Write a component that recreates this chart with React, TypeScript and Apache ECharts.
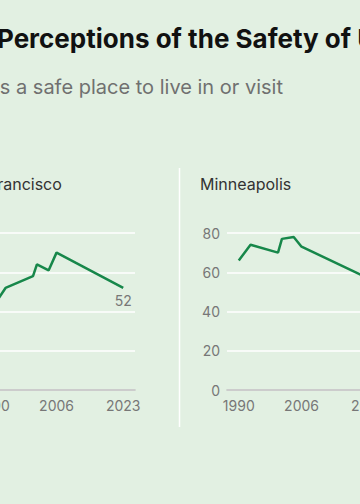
import React, { useEffect, useRef } from "react";
import * as echarts from "echarts";

const years = [1990, 1993, 2000, 2001, 2004, 2006, 2023];
const sanFrancisco = [43, 52, 58, 64, 61, 70, 52];
const minneapolis = [66, 74, 70, 77, 78, 73, 57];
const cities = ["San Francisco", "Minneapolis"];
const xTickLabels = [1990, 2006, 2023];
const yTicks = [0, 20, 40, 60, 80];

const TITLE = "Perceptions of the Safety of U.S. Cities";
const SUBTITLE = "Percentage who say each city is a safe place to live in or visit";

const OFF = 300; // chart canvas is shifted left by this many px
const BG = "#e2f0e2";
const GREEN = "#17874a";
const FONT = "Inter, 'Noto Sans', sans-serif";

export default function App() {
  const ref = useRef<HTMLDivElement>(null);
  useEffect(() => {
    if (!ref.current) return;
    const chart = echarts.init(ref.current, undefined, { renderer: "svg" });
    const gridLefts = [-18 + OFF, 227 + OFF];
    const gridW = 153;
    const seriesData = [sanFrancisco, minneapolis];

    const grids = gridLefts.map((l) => ({
      left: l,
      top: 233,
      width: gridW,
      height: 157,
      containLabel: false,
    }));
    const xAxes = gridLefts.map((_, i) => ({
      type: "value",
      gridIndex: i,
      min: 1987,
      max: 2026,
      splitLine: { show: false },
      axisLine: { show: true, lineStyle: { color: "#bdbdbd", width: 1.5 } },
      axisTick: { show: false },
      axisLabel: {
        show: true,
        customValues: xTickLabels,
        formatter: (v: number) => String(v),
        color: "#777",
        fontSize: 14,
        fontFamily: FONT,
        margin: 8,
      },
    }));
    const yAxes = gridLefts.map((_, i) => ({
      type: "value",
      gridIndex: i,
      min: yTicks[0],
      max: yTicks[yTicks.length - 1],
      interval: 20,
      axisLine: { show: false },
      axisTick: { show: false },
      splitLine: { show: true, lineStyle: { color: "#ffffff", width: 1.5 } },
      axisLabel: { color: "#777", fontSize: 14, fontFamily: FONT, margin: 7 },
    }));
    const series = seriesData.map((vals, i) => ({
      type: "line",
      xAxisIndex: i,
      yAxisIndex: i,
      symbol: "none",
      lineStyle: { color: GREEN, width: 2.5 },
      itemStyle: { color: GREEN },
      data: vals.map((v, j) =>
        j === vals.length - 1
          ? {
              value: [years[j], v],
              symbol: "circle",
              symbolSize: 1,
              itemStyle: { color: "rgba(0,0,0,0)" },
              label: {
                show: true,
                position: "bottom",
                distance: 5,
                color: "#777",
                fontSize: 14,
                fontFamily: FONT,
                formatter: String(v),
              },
            }
          : [years[j], v]
      ),
    }));

    const graphics: any[] = [
      {
        type: "text",
        x: -3 + OFF,
        y: 38,
        style: {
          text: TITLE,
          font: `bold 26px ${FONT}`,
          fill: "#111",
          textAlign: "left",
          textVerticalAlign: "middle",
        },
      },
      {
        type: "text",
        x: 283 + OFF,
        y: 87,
        style: {
          text: SUBTITLE,
          font: `20px ${FONT}`,
          fill: "#707070",
          textAlign: "right",
          textVerticalAlign: "middle",
        },
      },
      {
        type: "line",
        shape: { x1: 179.5 + OFF, y1: 168, x2: 179.5 + OFF, y2: 427 },
        style: { stroke: "#ffffff", lineWidth: 1.5 },
      },
    ];
    cities.forEach((c, i) => {
      graphics.push({
        type: "text",
        x: gridLefts[i] - 27,
        y: 184,
        style: {
          text: c,
          font: `16px ${FONT}`,
          fill: "#333",
          textAlign: "left",
          textVerticalAlign: "middle",
        },
      });
    });

    chart.setOption({
      animation: false,
      backgroundColor: BG,
      grid: grids,
      xAxis: xAxes,
      yAxis: yAxes,
      series,
      graphic: graphics,
    } as any);
    return () => chart.dispose();
  }, []);

  return (
    <div
      style={{
        position: "fixed",
        left: 0,
        top: 0,
        width: 360,
        height: 504,
        overflow: "hidden",
        background: BG,
      }}
    >
      <div
        ref={ref}
        style={{ position: "absolute", left: -OFF, top: 0, width: 960, height: 504 }}
      />
    </div>
  );
}
